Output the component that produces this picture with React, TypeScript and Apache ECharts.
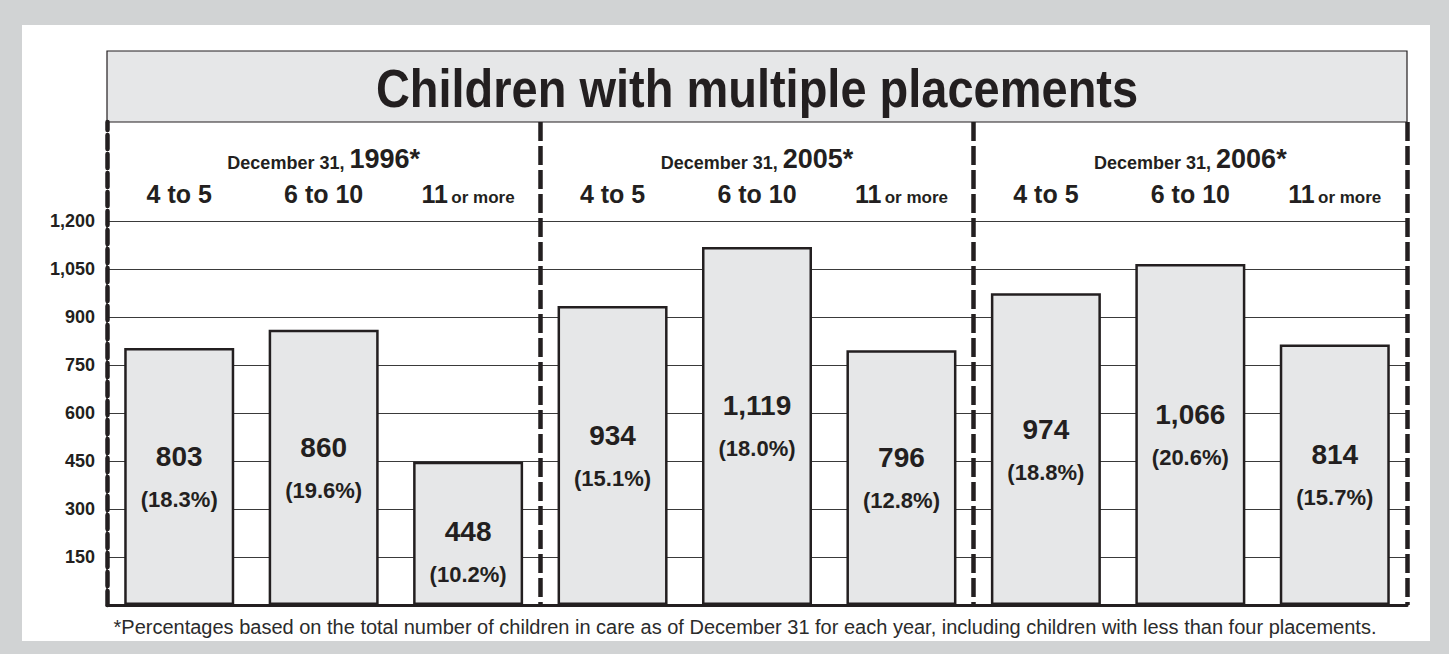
import React, { useEffect, useRef } from 'react';
import * as echarts from 'echarts';

// ---------- data ----------
const years = ['1996', '2005', '2006'];
const placementBands = ['4 to 5', '6 to 10', '11 or more'];
const categories = years.flatMap(() => placementBands);
const counts = [803, 860, 448, 934, 1119, 796, 974, 1066, 814];
const percents = ['18.3%', '19.6%', '10.2%', '15.1%', '18.0%', '12.8%', '18.8%', '20.6%', '15.7%'];
const yMin = 0;
const yMax = 1200;
const yStep = 150;
const titleText = 'Children with multiple placements';
const footnoteText =
  '*Percentages based on the total number of children in care as of December 31 for each year, including children with less than four placements.';

// ---------- layout / style ----------
const W = 1449;
const H = 654;
const GRID_LEFT = 107;
const GRID_RIGHT = 42;
const GRID_TOP = 221;
const GRID_BOTTOM = 49;
const HEADER_TOP = 122;
const INK = '#231f20';
const BAR_FILL = '#e6e7e8';
const BG_GRAY = '#d1d3d4';
const BOLD = "'Liberation Sans', Arial, sans-serif";

const fmt = (n: number) => n.toLocaleString('en-US');

export default function App() {
  const ref = useRef<HTMLDivElement>(null);

  useEffect(() => {
    if (!ref.current) return;
    const chart = echarts.init(ref.current, undefined, { renderer: 'svg' });
    const plotW = W - GRID_LEFT - GRID_RIGHT;

    const option: any = {
      animation: false,
      backgroundColor: BG_GRAY,
      grid: [
        { left: GRID_LEFT, right: GRID_RIGHT, top: GRID_TOP, bottom: GRID_BOTTOM, containLabel: false },
        { left: GRID_LEFT, right: GRID_RIGHT, top: HEADER_TOP, bottom: GRID_BOTTOM, containLabel: false },
      ],
      xAxis: [
        {
          type: 'category',
          gridIndex: 0,
          position: 'top',
          data: categories,
          axisLine: { show: false },
          axisTick: { show: false },
          splitLine: { show: false },
          axisLabel: {
            margin: 15,
            interval: 0,
            color: INK,
            formatter: (v: string) => {
              const m = v.match(/^(\d+) (or more)$/);
              if (m) return `{big|${m[1]}} {small|${m[2]}}`;
              return `{big|${v}}`;
            },
            rich: {
              big: { fontFamily: BOLD, fontWeight: 'bold', fontSize: 25, color: INK, verticalAlign: 'bottom', lineHeight: 28 },
              small: { fontFamily: BOLD, fontWeight: 'bold', fontSize: 17, color: INK, verticalAlign: 'bottom', lineHeight: 28 },
            },
          },
        },
        {
          type: 'category',
          gridIndex: 0,
          position: 'top',
          offset: 43,
          data: years,
          axisLine: { show: false },
          axisTick: { show: false },
          splitLine: { show: false },
          axisLabel: {
            margin: 6,
            interval: 0,
            color: INK,
            formatter: (v: string) => `{s|December 31, }{b|${v}*}`,
            rich: {
              s: { fontFamily: BOLD, fontWeight: 'bold', fontSize: 18, color: INK, verticalAlign: 'bottom', lineHeight: 30 },
              b: { fontFamily: BOLD, fontWeight: 'bold', fontSize: 27, color: INK, verticalAlign: 'bottom', lineHeight: 30 },
            },
          },
        },
        {
          type: 'category',
          gridIndex: 1,
          position: 'bottom',
          data: years,
          axisLine: { show: true, lineStyle: { color: INK, width: 3 } },
          axisTick: { show: false },
          axisLabel: { show: false },
          splitLine: {
            show: true,
            showMinLine: false,
            showMaxLine: true,
            lineStyle: { color: INK, width: 4.5, type: [19, 5] },
          },
        },
      ],
      yAxis: [
        {
          type: 'value',
          gridIndex: 0,
          min: yMin,
          max: yMax,
          interval: yStep,
          axisLine: { show: true, lineStyle: { color: INK, width: 1.5 } },
          axisTick: { show: false },
          splitLine: { show: true, lineStyle: { color: '#3a3a3a', width: 1.2 } },
          axisLabel: {
            margin: 12,
            color: INK,
            fontFamily: BOLD,
            fontWeight: 'bold',
            fontSize: 18,
            formatter: (v: number) => (v === 0 ? '' : fmt(v)),
          },
        },
        {
          type: 'value',
          gridIndex: 1,
          min: 0,
          max: 1,
          axisLine: { show: true, lineStyle: { color: INK, width: 4.5, type: [14, 5] } },
          axisTick: { show: false },
          axisLabel: { show: false },
          splitLine: { show: false },
        },
      ],
      series: [
        {
          type: 'bar',
          xAxisIndex: 0,
          yAxisIndex: 0,
          barWidth: 110,
          data: counts.map((v, i) => ({
            value: v,
            label: i === 2 ? { offset: [0, 18] } : undefined,
          })),
          itemStyle: { color: BAR_FILL, borderColor: INK, borderWidth: 2.5 },
          label: {
            show: true,
            position: 'inside',
            formatter: (p: any) => `{v|${fmt(p.value)}}\n{p|(${percents[p.dataIndex]})}`,
            rich: {
              v: { fontFamily: BOLD, fontWeight: 'bold', fontSize: 28, color: INK, lineHeight: 46, align: 'center' },
              p: { fontFamily: BOLD, fontWeight: 'bold', fontSize: 22, color: INK, lineHeight: 40, align: 'center' },
            },
          },
        },
      ],
      graphic: [
        {
          type: 'rect',
          z: -20,
          silent: true,
          shape: { x: 22, y: 25, width: 1408, height: 616 },
          style: { fill: '#ffffff' },
        },
        {
          type: 'rect',
          z: -10,
          silent: true,
          shape: { x: GRID_LEFT, y: 51, width: plotW, height: HEADER_TOP - 51 },
          style: { fill: BAR_FILL, stroke: INK, lineWidth: 1.2 },
        },
        {
          type: 'text',
          z: 10,
          silent: true,
          x: GRID_LEFT + plotW / 2,
          y: 88,
          scaleX: 0.87,
          style: {
            text: titleText,
            fill: INK,
            font: `bold 54px ${BOLD}`,
            align: 'center',
            verticalAlign: 'middle',
          },
        },
        {
          type: 'text',
          z: 10,
          silent: true,
          x: 745,
          y: 627,
          style: {
            text: footnoteText,
            fill: '#2b2b2b',
            font: `20px ${BOLD}`,
            align: 'center',
            verticalAlign: 'middle',
          },
        },
      ],
    };

    chart.setOption(option);
    return () => chart.dispose();
  }, []);

  return <div ref={ref} style={{ position: 'fixed', left: 0, top: 0, width: W, height: H }} />;
}
